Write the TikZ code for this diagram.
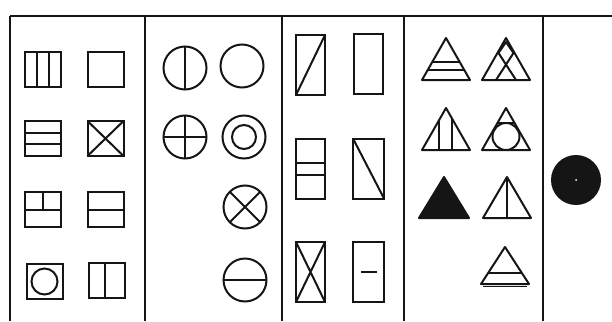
\documentclass[tikz,border=0pt]{standalone}
\usepackage{tikz}
\usetikzlibrary{calc}
\definecolor{cInk}  {HTML}{151515}
\definecolor{cPaper}{HTML}{FFFFFF}

\begin{document}
\begin{tikzpicture}[x=1pt, y=-1pt,
    frame/.style={cInk, line width=2.6pt},
    rule/.style={cInk, line width=2pt, line join=round},
    sq/.style={draw=cInk, line width=2pt, minimum width=36pt, minimum height=35pt,
               inner sep=0pt, outer sep=0pt},
    ring/.style={draw=cInk, circle, line width=2pt, minimum size=43pt,
                 inner sep=0pt, outer sep=0pt},
    tall/.style={draw=cInk, line width=2pt, minimum width=29pt, minimum height=60pt,
                 inner sep=0pt, outer sep=0pt}]
  \fill[cPaper] (0,0) rectangle (612,321);
  \useasboundingbox (0,0) rectangle (612,321);
  % frame and dividers
  \foreach \x [count=\i] in {10,145,282,404,543}{
    \coordinate (top\i) at (\x,16);
    \coordinate (bot\i) at (\x,321);
    \draw[frame] (top\i) -- (bot\i);
  }
  \coordinate (topend) at (612,16);
  \draw[frame] (top1) -- (topend);
  % squares
  \node[sq] (a1) at (43,69.5) {};
  \draw[rule] ($(a1.north west)!1/3!(a1.north east)$) -- ($(a1.south west)!1/3!(a1.south east)$)
              ($(a1.north west)!2/3!(a1.north east)$) -- ($(a1.south west)!2/3!(a1.south east)$);
  \node[sq] (a2) at (105.5,69.5) {};
  \node[sq] (a3) at (43,138.5) {};
  \draw[rule] ($(a3.north west)!1/3!(a3.south west)$) -- ($(a3.north east)!1/3!(a3.south east)$)
              ($(a3.north west)!2/3!(a3.south west)$) -- ($(a3.north east)!2/3!(a3.south east)$);
  \node[sq] (a4) at (105.5,138.5) {};
  \draw[rule] (a4.north west) -- (a4.south east) (a4.north east) -- (a4.south west);
  \node[sq] (a5) at (43,209.5) {};
  \draw[rule] (a5.west) -- (a5.east) (a5.north) -- (a5.center);
  \node[sq] (a6) at (106,209.5) {};
  \draw[rule] (a6.west) -- (a6.east);
  \node[sq] (a7) at (44.5,281.5) {};
  \node[ring, minimum size=26pt] (a7c) at (a7) {};
  \node[sq] (a8) at (106.5,280.5) {};
  \draw[rule] ($(a8.north)+(-1.5,0)$) -- ($(a8.south)+(-1.5,0)$);
  % circles
  \node[ring] (b1) at (185,68) {};
  \draw[rule] (b1.north) -- (b1.south);
  \node[ring] (b2) at (242,66) {};
  \node[ring] (b3) at (185,137) {};
  \draw[rule] (b3.north) -- (b3.south) (b3.west) -- (b3.east);
  \node[ring] (b4) at (244,137) {};
  \node[ring, minimum size=24pt] (b4i) at (b4) {};
  \node[ring] (b5) at (245,207) {};
  \draw[rule] (b5.north west) -- (b5.south east) (b5.north east) -- (b5.south west);
  \node[ring] (b6) at (245,280) {};
  \draw[rule] (b6.west) -- (b6.east);
  % tall boxes
  \node[tall] (c1) at (310.5,65) {};
  \draw[rule] (c1.south west) -- (c1.north east);
  \node[tall] (c2) at (368,64) {};
  \node[tall] (c3) at (310.5,168.5) {};
  \draw[rule] ($(c3.west)+(0,-5.5)$) -- ($(c3.east)+(0,-5.5)$)
              ($(c3.west)+(0,6.5)$) -- ($(c3.east)+(0,6.5)$);
  \node[tall, minimum width=31pt] (c4) at (368.5,168.5) {};
  \draw[rule] (c4.north west) -- (c4.south east);
  \node[tall] (c5) at (310.5,272) {};
  \draw[rule] (c5.north west) -- (c5.south east) (c5.north east) -- (c5.south west);
  \node[tall, minimum width=31pt] (c6) at (368.5,272) {};
  \draw[cInk, line width=1.2pt] ($(c6.center)+(-8,0)$) -- ($(c6.center)+(8,0)$);
  % triangles
  \begin{scope}[shift={(446,38)}]
    \draw[rule] (0,0) -- (24,42) -- (-24,42) -- cycle;
    \draw[rule] (-13.7,24) -- (13.7,24) (-18.3,32) -- (18.3,32);
  \end{scope}
  \begin{scope}[shift={(506,38)}]
    \draw[rule] (0,0) -- (24,42) -- (-24,42) -- cycle;
    \draw[rule] (-10,42) -- (7.5,15) -- (0,4) -- (-7.5,15) -- (10,42);
  \end{scope}
  \begin{scope}[shift={(446,108)}]
    \draw[rule] (0,0) -- (24,42) -- (-24,42) -- cycle;
    \draw[rule] (-7,12.25) -- (-7,42) (6,10.5) -- (6,42);
  \end{scope}
  \begin{scope}[shift={(506,108)}]
    \draw[rule] (0,0) -- (24,42) -- (-24,42) -- cycle;
    \draw[rule] (0,28.5) circle[radius=13.5pt];
    \draw[rule] (-8.6,15) -- (8.6,15);
  \end{scope}
  \begin{scope}[shift={(444,177)}]
    \filldraw[rule, fill=cInk] (0,0) -- (25,41) -- (-25,41) -- cycle;
  \end{scope}
  \begin{scope}[shift={(507,177)}]
    \draw[rule] (0,0) -- (24,41) -- (-24,41) -- cycle;
    \draw[rule] (0,0) -- (0,41);
  \end{scope}
  \begin{scope}[shift={(505,247)}]
    \draw[rule] (0,0) -- (24,37) -- (-24,37) -- cycle;
    \draw[rule] (-16.9,26) -- (16.9,26);
    \draw[cInk, line width=1.2pt] (-22,39.5) -- (22,39.5);
  \end{scope}
  % dot
  \fill[cInk] (576,180) circle[radius=25pt];
  \fill[cPaper] (576,180) circle[radius=1pt];
\end{tikzpicture}
\end{document}
